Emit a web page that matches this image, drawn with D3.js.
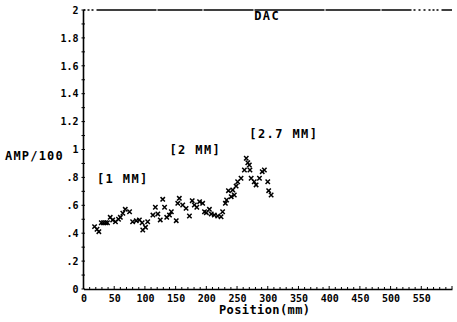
<!DOCTYPE html>
<html>
<head>
<meta charset="utf-8">
<script src="https://cdn.jsdelivr.net/npm/d3@7/dist/d3.min.js"></script>
<style>
  html, body { margin: 0; padding: 0; background: #fff; }
  svg { display: block; }
  text { font-family: "DejaVu Sans Mono", monospace; fill: #000; }
</style>
</head>
<body>
<svg id="chart" width="457" height="322"></svg>
<script>
// Scan positions (mm) and echo amplitude (AMP/100)
const positions = [18, 22, 25, 29, 32.5, 36, 39, 43.5, 47.5, 52, 57, 60, 64, 68, 75,
  80, 86, 91, 95.5, 96.5, 101, 104.5, 113, 117, 121, 125, 129, 132, 135.5, 140, 143,
  151, 153.5, 156, 161.5, 167, 172.5, 177, 180.5, 184.5, 189, 194, 197, 200, 205,
  208, 213, 218.5, 224, 226.5, 231, 233, 236, 240.5, 243, 245.5, 248.5, 251, 256.5,
  262, 265, 267.5, 270, 271, 273, 278, 281, 286.5, 291, 294.5, 300, 301.5, 305.5];
const amplitudes = [0.447, 0.428, 0.411, 0.475, 0.475, 0.475, 0.475, 0.514, 0.495, 0.482,
  0.50, 0.514, 0.543, 0.571, 0.554, 0.482, 0.49, 0.495, 0.475, 0.423, 0.442, 0.482,
  0.53, 0.586, 0.538, 0.495, 0.643, 0.586, 0.514, 0.53, 0.554, 0.49, 0.614, 0.65,
  0.602, 0.578, 0.523, 0.633, 0.602, 0.586, 0.626, 0.614, 0.554, 0.547, 0.571, 0.538,
  0.53, 0.523, 0.518, 0.554, 0.614, 0.638, 0.705, 0.662, 0.71, 0.674, 0.738, 0.769,
  0.794, 0.853, 0.937, 0.905, 0.889, 0.853, 0.794, 0.769, 0.746, 0.794, 0.841, 0.853,
  0.769, 0.705, 0.674];

const xTickValues = [0, 50, 100, 150, 200, 250, 300, 350, 400, 450, 500, 550];
const yTickValues = [0, 0.2, 0.4, 0.6, 0.8, 1, 1.2, 1.4, 1.6, 1.8, 2];
const yTickLabels = ["0", ".2", ".4", ".6", ".8", "1", "1.2", "1.4", "1.6", "1.8", "2"];

// Annotations: flaw sizes and the DAC curve label
const annotations = [
  { text: "[1 MM]", x: 22, y: 0.76 },
  { text: "[2 MM]", x: 140, y: 0.97 },
  { text: "[2.7 MM]", x: 270, y: 1.08 },
  { text: "DAC", x: 278, y: 1.93 }
];

const svg = d3.select("#chart");
const x = d3.scaleLinear().domain([0, 600]).range([83.5, 452]);
const y = d3.scaleLinear().domain([0, 2]).range([289, 10]);

// Frame: solid left axis, broken top line, bottom axis
svg.append("line")
  .attr("x1", x(0)).attr("x2", x(0)).attr("y1", y(0)).attr("y2", y(2))
  .attr("stroke", "#000").attr("stroke-width", 1.6);
svg.append("line")
  .attr("x1", x(0)).attr("x2", x(600)).attr("y1", y(2)).attr("y2", y(2))
  .attr("stroke", "#000").attr("stroke-width", 1.3)
  .attr("stroke-dasharray", "2,2,2,2,2,3,60,1,45,1,50,1,70,1,55,1,30,2,2,3,2,3,2,3");

// X axis with minor ticks every 10 mm
const xAxis = d3.axisBottom(x)
  .tickValues(xTickValues)
  .tickSize(0)
  .tickPadding(6)
  .tickFormat(d3.format("d"));
const gx = svg.append("g").attr("transform", `translate(0,${y(0)})`).call(xAxis);
gx.select(".domain").attr("stroke", "#000").attr("stroke-width", 1.3);
gx.selectAll("text")
  .style("font-size", "10px").style("font-weight", "bold").attr("fill", "#000");
svg.append("g").selectAll("line")
  .data(d3.range(0, 601, 10))
  .join("line")
  .attr("x1", d => x(d)).attr("x2", d => x(d))
  .attr("y1", y(0)).attr("y2", d => y(0) - (d % 50 === 0 ? 3 : 2))
  .attr("stroke", "#000").attr("stroke-width", 1);

// Y axis with labels and minor ticks every 0.1
const yAxis = d3.axisLeft(y)
  .tickValues(yTickValues)
  .tickSize(0)
  .tickPadding(5)
  .tickFormat((d, i) => yTickLabels[i]);
const gy = svg.append("g").attr("transform", `translate(${x(0)},0)`).call(yAxis);
gy.select(".domain").remove();
gy.selectAll("text")
  .style("font-size", "10px").style("font-weight", "bold").attr("fill", "#000");
svg.append("g").selectAll("line")
  .data(d3.range(0, 21).map(i => i / 10))
  .join("line")
  .attr("x1", x(0) - 2).attr("x2", x(0) + 1.5)
  .attr("y1", d => y(d)).attr("y2", d => y(d))
  .attr("stroke", "#000").attr("stroke-width", 1);

// Axis titles
svg.append("text")
  .attr("x", 5).attr("y", 160)
  .style("font-size", "12px").style("font-weight", "bold").style("letter-spacing", "1.2px")
  .text("AMP/100");
svg.append("text")
  .attr("x", 219).attr("y", 314)
  .style("font-size", "12px").style("font-weight", "bold").style("letter-spacing", "0.4px")
  .text("Position(mm)");

// Annotations
svg.append("g").selectAll("text")
  .data(annotations)
  .join("text")
  .attr("x", d => x(d.x)).attr("y", d => y(d.y))
  .style("font-size", "12px").style("font-weight", "bold").style("letter-spacing", "1.4px")
  .text(d => d.text);

// Data points drawn as x markers
const points = positions.map((p, i) => ({ p, a: amplitudes[i] }));
const s = 2.2;
svg.append("g").selectAll("path")
  .data(points)
  .join("path")
  .attr("d", d => {
    const cx = x(d.p), cy = y(d.a);
    return `M${cx - s},${cy - s}L${cx + s},${cy + s}M${cx - s},${cy + s}L${cx + s},${cy - s}`;
  })
  .attr("stroke", "#000").attr("stroke-width", 1.5).attr("fill", "none");
</script>
</body>
</html>
